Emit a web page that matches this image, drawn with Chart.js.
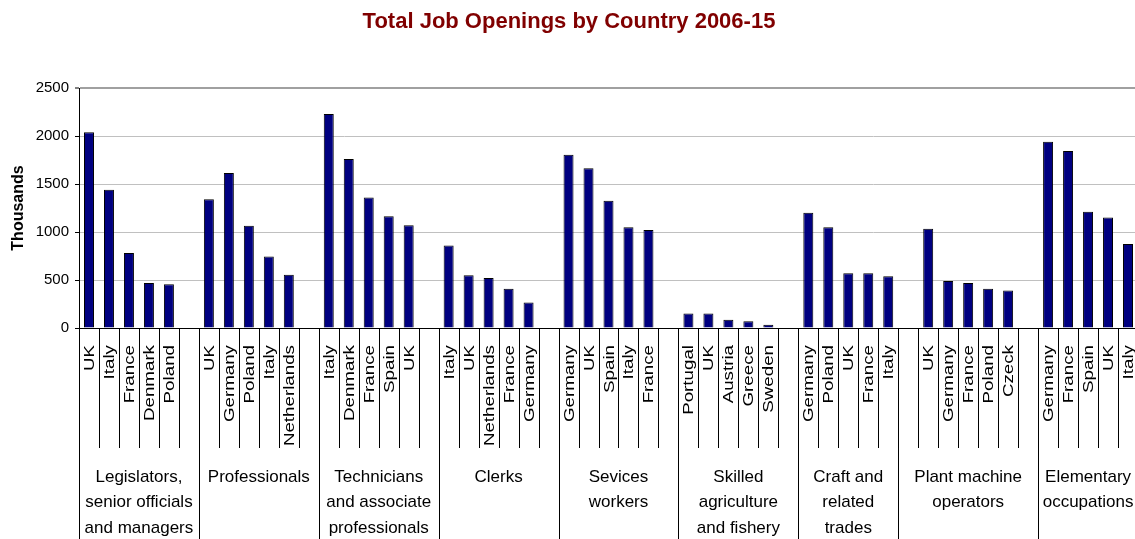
<!DOCTYPE html>
<html>
<head>
<meta charset="utf-8">
<title>Total Job Openings by Country 2006-15</title>
<script src="https://cdn.jsdelivr.net/npm/chart.js@4.4.1/dist/chart.umd.min.js"></script>
<style>
  html, body { margin: 0; padding: 0; background: #fff; overflow: hidden; }
  #wrap { width: 1140px; height: 539px; }
</style>
</head>
<body>
<div id="wrap"><canvas id="jobs" width="1140" height="539"></canvas></div>
<script>
// occupation groups along the bottom, and how many country slots each spans
const groupNames = [
  ['Legislators,', 'senior officials', 'and managers'],
  ['Professionals'],
  ['Technicians', 'and associate', 'professionals'],
  ['Clerks'],
  ['Sevices', 'workers'],
  ['Skilled', 'agriculture', 'and fishery'],
  ['Craft and', 'related', 'trades'],
  ['Plant machine', 'operators'],
  ['Elementary', 'occupations']
];
const groupSizes = [6, 6, 6, 6, 6, 6, 5, 7, 5];

// one slot per country, '' marks an empty spacer slot
const countries = [
  'UK', 'Italy', 'France', 'Denmark', 'Poland', '',
  'UK', 'Germany', 'Poland', 'Italy', 'Netherlands', '',
  'Italy', 'Denmark', 'France', 'Spain', 'UK', '',
  'Italy', 'UK', 'Netherlands', 'France', 'Germany', '',
  'Germany', 'UK', 'Spain', 'Italy', 'France', '',
  'Portugal', 'UK', 'Austria', 'Greece', 'Sweden', '',
  'Germany', 'Poland', 'UK', 'France', 'Italy',
  '', 'UK', 'Germany', 'France', 'Poland', 'Czeck', '',
  'Germany', 'France', 'Spain', 'UK', 'Italy'
];

// job openings, thousands
const openings = [
  2040, 1440, 780, 470, 455, null,
  1340, 1615, 1065, 745, 555, null,
  2230, 1760, 1360, 1165, 1070, null,
  860, 550, 520, 410, 265, null,
  1805, 1665, 1325, 1050, 1020, null,
  150, 150, 85, 70, 35, null,
  1200, 1050, 570, 570, 540,
  null, 1035, 490, 470, 410, 390, null,
  1940, 1845, 1210, 1150, 875
];

const yTicks = [0, 500, 1000, 1500, 2000, 2500];

const FONT = '"Liberation Sans", Arial, sans-serif';

// draws the two-level category axis: country names, slot dividers, group names
const groupAxis = {
  id: 'groupAxis',
  afterDraw(chart) {
    const ctx = chart.ctx;
    const x = chart.scales.x;
    const base = chart.chartArea.bottom;
    ctx.save();

    ctx.fillStyle = '#000';
    ctx.font = '15px ' + FONT;
    ctx.textAlign = 'right';
    ctx.textBaseline = 'alphabetic';
    countries.forEach((name, i) => {
      if (!name) return;
      ctx.save();
      ctx.translate(x.getPixelForValue(i), base + 17);
      ctx.rotate(-Math.PI / 2);
      ctx.scale(1.25, 1);
      ctx.fillText(name, 0, 5);
      ctx.restore();
    });

    const edges = new Set([0]);
    let n = 0;
    groupSizes.forEach(s => { n += s; edges.add(n); });
    ctx.strokeStyle = '#000';
    ctx.lineWidth = 1;
    ctx.beginPath();
    for (let i = 0; i <= countries.length; i++) {
      const px = Math.round(x.getPixelForValue(i - 0.5)) + 0.5;
      ctx.moveTo(px, base);
      ctx.lineTo(px, edges.has(i) ? chart.height : base + 120);
    }
    ctx.stroke();

    ctx.font = '17px ' + FONT;
    ctx.textAlign = 'center';
    ctx.textBaseline = 'middle';
    let start = 0;
    groupNames.forEach((lines, g) => {
      const end = start + groupSizes[g];
      const cx = (x.getPixelForValue(start - 0.5) + x.getPixelForValue(end - 0.5)) / 2;
      lines.forEach((t, k) => ctx.fillText(t, cx, base + 149 + k * 25.5));
      start = end;
    });

    ctx.restore();
  }
};

const yMax = yTicks[yTicks.length - 1];

new Chart(document.getElementById('jobs').getContext('2d'), {
  type: 'bar',
  data: {
    labels: countries,
    datasets: [{
      label: 'Total job openings',
      data: openings,
      backgroundColor: '#000080',
      borderColor: '#000',
      borderWidth: 1,
      barPercentage: 0.5,
      categoryPercentage: 1.0
    }]
  },
  options: {
    responsive: false,
    animation: false,
    layout: { padding: { left: 0, right: 2, top: 0, bottom: 0 } },
    plugins: {
      legend: { display: false },
      tooltip: { enabled: false },
      title: {
        display: true,
        text: 'Total Job Openings by Country 2006-15',
        color: '#800000',
        font: { family: FONT, size: 22, weight: 'bold' },
        padding: { top: 9, bottom: 52.6 }
      }
    },
    scales: {
      x: {
        grid: { display: false },
        border: { display: true, color: '#000' },
        ticks: { display: false },
        afterFit(scale) { scale.height = 211; }
      },
      y: {
        min: yTicks[0],
        max: yMax,
        ticks: {
          stepSize: yTicks[1] - yTicks[0],
          padding: 6,
          color: '#000',
          font: { family: FONT, size: 15 },
          callback: v => String(v)
        },
        grid: {
          color: c => (c.tick && c.tick.value === yMax ? '#a0a0a0' : '#c0c0c0'),
          lineWidth: c => (c.tick && c.tick.value === yMax ? 2 : 1),
          tickLength: 4,
          tickColor: '#000',
          tickWidth: 1
        },
        border: { display: true, color: '#000' },
        title: {
          display: true,
          text: 'Thousands',
          color: '#000',
          font: { family: FONT, size: 16, weight: 'bold' },
          padding: { top: 9, bottom: 0 }
        },
        afterFit(scale) { scale.width = 79; }
      }
    }
  },
  plugins: [groupAxis]
});
</script>
</body>
</html>
